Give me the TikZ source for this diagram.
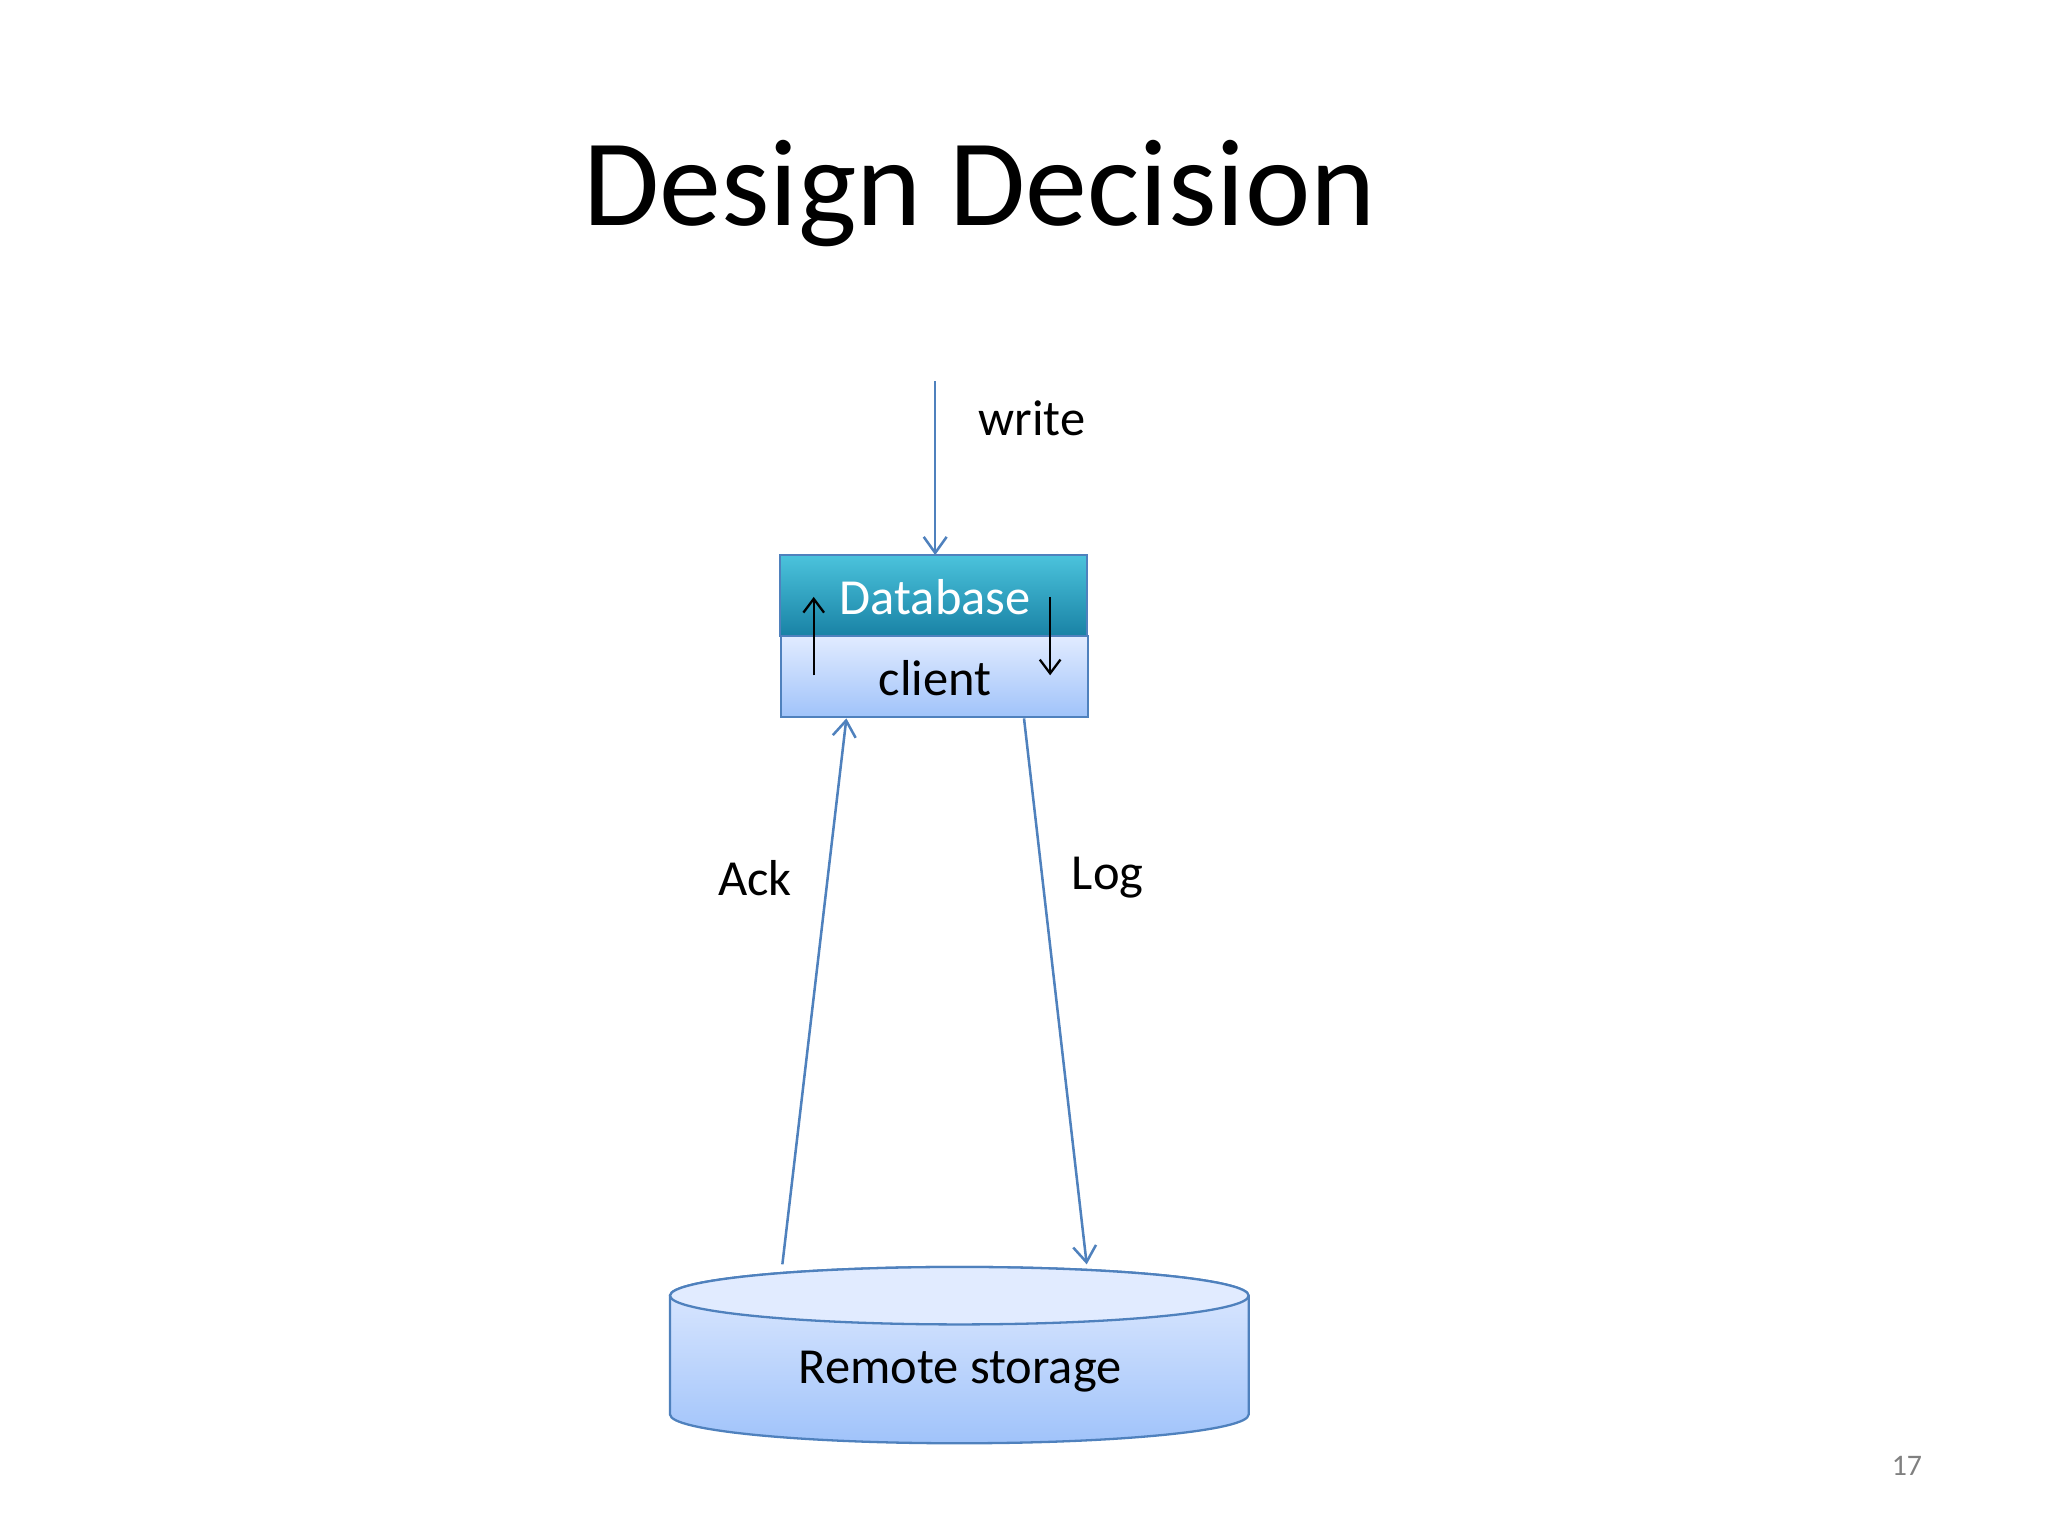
\documentclass[tikz,border=0pt]{standalone}
\usepackage{fontspec}
\setmainfont{Carlito}
\usetikzlibrary{arrows.meta}
\begin{document}
\begin{tikzpicture}[x=0.02cm,y=-0.02cm,
  conn/.style={line width=1.1pt, -{Straight Barb[length=7pt,width=10pt]}},
  inner/.style={black, line width=1pt, -{Straight Barb[length=6pt,width=9pt]}},
  lbl/.style={font=\fontsize{22}{26}\selectfont}]
\definecolor{edge}{RGB}{79,129,189}
\definecolor{teal1}{RGB}{75,195,220}
\definecolor{teal2}{RGB}{25,130,165}
\definecolor{lb1}{RGB}{225,235,255}
\definecolor{lb2}{RGB}{160,195,250}
\useasboundingbox (0,0) rectangle (1568,1176);
\node[font=\fontsize{54}{58}\selectfont] (title) at (750,148) {Design Decision};
% boxes
\shade[top color=teal1,bottom color=teal2,draw=edge,line width=0.8pt] (597,425) rectangle (832,487);
\node[white,lbl] (db) at (716,457) {Database};
\shade[top color=lb1,bottom color=lb2,draw=edge,line width=0.8pt] (598,487) rectangle (833,549);
\node[lbl] (cl) at (716,519) {client};
\coordinate (dbtop) at (716,425);
\coordinate (wtop) at (716,292);
\coordinate (clA) at (648,550);
\coordinate (clL) at (784,550);
\coordinate (u1) at (623,517); \coordinate (u2) at (623,457);
\coordinate (d1) at (804,457); \coordinate (d2) at (804,517);
\draw[inner] (u1) -- (u2);
\draw[inner] (d1) -- (d2);
% cylinder
\shade[top color=lb1,bottom color=lb2,draw=edge,line width=1pt]
  (513,992) -- (513,1083) arc[start angle=180,end angle=0,x radius=221.5,y radius=22] -- (956,992) arc[start angle=0,end angle=-180,x radius=221.5,y radius=22] -- cycle;
\draw[edge,line width=1pt,fill=lb1] (734.5,992) ellipse[x radius=221.5,y radius=22];
\node[lbl] (rs) at (735,1050) {Remote storage};
\coordinate (rsA) at (599,968);
\coordinate (rsL) at (832,968);
% connectors
\draw[conn,edge] (wtop) -- (dbtop);
\draw[conn,edge] (rsA) -- (clA);
\draw[conn,edge] (clL) -- (rsL);
\node[lbl] (w) at (790,320) {write};
\node[lbl] (ack) at (578,672) {Ack};
\node[lbl] (log) at (848,672) {Log};
\node[gray,font=\fontsize{13}{15}\selectfont] (pn) at (1460,1122) {17};
\end{tikzpicture}
\end{document}
